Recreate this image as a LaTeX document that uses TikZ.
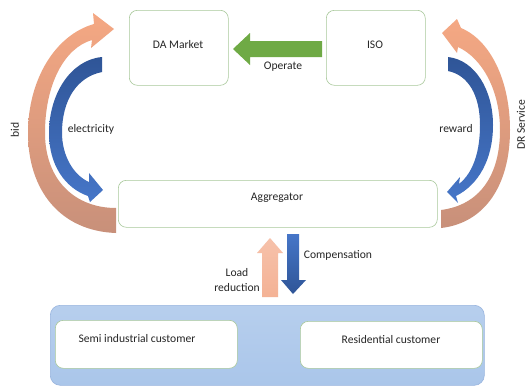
\documentclass[tikz,border=0pt]{standalone}
\usepackage{fontspec}
\setmainfont{Carlito}
\begin{document}
\begin{tikzpicture}[x=1pt,y=-1pt,
  box/.style={draw=boxgreen, line width=0.6pt, fill=white, rounded corners=8pt},
  lbl/.style={font=\fontsize{11.6}{13}\selectfont, text=black!85, inner sep=0pt},
]
\definecolor{boxgreen}{HTML}{A8C89A}
\definecolor{panelblue}{HTML}{AAC6EA}
\definecolor{panelline}{HTML}{98B4DE}
\definecolor{opgreen}{HTML}{6FAA45}
\definecolor{dkblue}{HTML}{2F5597}
\definecolor{ltblue}{HTML}{4676C8}
\definecolor{salmon}{HTML}{F5A883}
\definecolor{rosy}{HTML}{C8907A}
\definecolor{peach}{HTML}{F4B295}
\useasboundingbox (0,0) rectangle (530,386);
\fill[white] (0,0) rectangle (530,386);

% boxes
\node[box, minimum width=99pt, minimum height=75pt, anchor=north west] (da) at (129,10) {};
\node[box, minimum width=99pt, minimum height=75pt, anchor=north west] (iso) at (326,10) {};
\node[box, minimum width=319pt, minimum height=47pt, anchor=north west] (agg) at (118,180) {};
\node[draw=panelline, line width=0.6pt, top color=panelblue!85!white, bottom color=panelblue, rounded corners=10pt, minimum width=434pt, minimum height=80pt, anchor=north west] (panel) at (50,305) {};
\node[box, minimum width=182pt, minimum height=48pt, anchor=north west] (semi) at (55,320) {};
\node[box, minimum width=182pt, minimum height=47pt, anchor=north west] (res) at (300,321) {};

\node[lbl] (tda) at (178,45) {DA Market};
\node[lbl] (tiso) at (375,45) {ISO};
\node[lbl] (tagg) at (277,198) {Aggregator};
\node[lbl] (tsemi) at (137,339) {Semi industrial customer};
\node[lbl] (tres) at (391,340) {Residential customer};

% Operate arrow (ISO -> DA Market)
\fill[opgreen] (322,41) -- (250,41) -- (250,33) -- (233,49) -- (250,65) -- (250,57) -- (322,57) -- cycle;
\node[lbl] (top) at (283,67) {Operate};

% left orange (bid)
\path[top color=salmon, bottom color=rosy]
  (116,233) .. controls (60,231) and (28,190) .. (28,133)
  .. controls (28,80) and (55,35) .. (94,24) -- (93,13) -- (114,29) -- (91,48) -- (92,40)
  .. controls (64,48) and (45,85) .. (45,133)
  .. controls (45,180) and (75,208) .. (116,208) -- cycle;
% left blue (electricity)
\path[top color=dkblue, bottom color=ltblue]
  (102,57) .. controls (70,60) and (49,95) .. (49,133)
  .. controls (49,165) and (65,188) .. (88,196) -- (90,202) -- (103,190) -- (89,173) -- (89,182)
  .. controls (73,175) and (62,155) .. (62,133)
  .. controls (62,100) and (77,77) .. (102,72) -- cycle;
% right orange (DR Service)
\path[top color=salmon, bottom color=rosy]
  (441,228) .. controls (485,223) and (510,185) .. (510,130)
  .. controls (510,80) and (490,40) .. (461,28) -- (457,19) -- (442,33) -- (457,53) -- (458,47)
  .. controls (482,58) and (500,90) .. (500,130)
  .. controls (500,175) and (480,205) .. (441,210) -- cycle;
% right blue (reward)
\path[top color=dkblue, bottom color=ltblue]
  (448,57) .. controls (475,60) and (493,90) .. (493,125)
  .. controls (493,160) and (478,185) .. (456,196) -- (458,203) -- (447,192) -- (460,177) -- (459,184)
  .. controls (474,172) and (480,150) .. (480,125)
  .. controls (480,95) and (468,75) .. (448,71) -- cycle;

\node[lbl] (tbid) at (15,130) [rotate=90] {bid};
\node[lbl] (telec) at (91,129) {electricity};
\node[lbl] (trew) at (456,129) {reward};
\node[lbl] (tdr) at (521,125) [rotate=90] {DR Service};

% load reduction (up) and compensation (down)
\path[top color=peach!80, bottom color=peach]
  (262,297) -- (262,253) -- (257,253) -- (270,238) -- (283,253) -- (278,253) -- (278,297) -- cycle;
\path[top color=ltblue, bottom color=dkblue]
  (287,234) -- (299,234) -- (299,280) -- (306,280) -- (293,294) -- (281,280) -- (287,280) -- cycle;
\node[lbl] (tcomp) at (338,255) {Compensation};
\node[lbl] (tload) at (237,273) {Load};
\node[lbl] (tred) at (237,288) {reduction};
\end{tikzpicture}
\end{document}
